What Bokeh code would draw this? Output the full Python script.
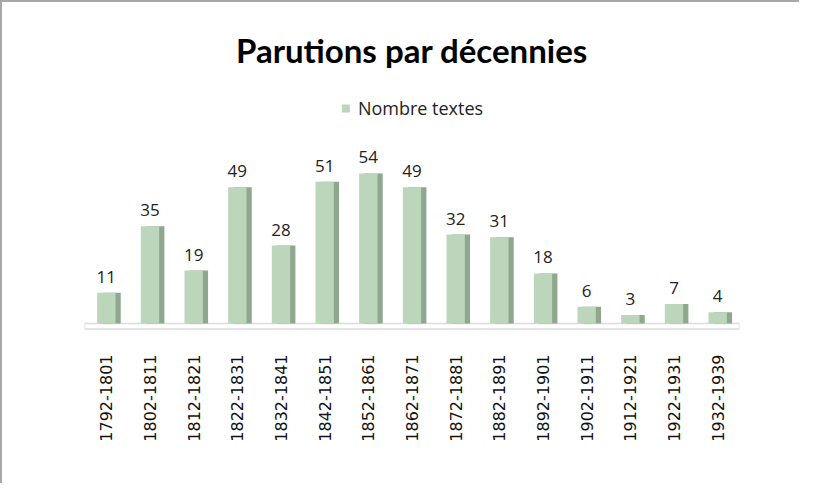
import math
from bokeh.plotting import figure
from bokeh.models import (ColumnDataSource, FactorRange, Range1d, LabelSet,
                          BoxAnnotation, Legend, LegendItem)
from bokeh.core.properties import value
from bokeh.transform import dodge
from bokeh.embed import file_html
from bokeh.resources import INLINE

categories = ["1792-1801", "1802-1811", "1812-1821", "1822-1831", "1832-1841",
              "1842-1851", "1852-1861", "1862-1871", "1872-1881", "1882-1891",
              "1892-1901", "1902-1911", "1912-1921", "1922-1931", "1932-1939"]
nombre_textes = [11, 35, 19, 49, 28, 51, 54, 49, 32, 31, 18, 6, 3, 7, 4]
series_name = "Nombre textes"
chart_title = "Parutions par décennies"

src = ColumnDataSource(dict(cat=categories, val=nombre_textes,
                            lbl=[str(v) for v in nombre_textes]))

p = figure(width=799, height=483, output_backend="svg", toolbar_location=None,
           x_range=FactorRange(*categories), y_range=Range1d(-4, 86),
           min_border_left=82, min_border_right=62, min_border_top=82,
           min_border_bottom=151)

p.title.text = chart_title
p.title.align = "center"
p.title.text_font = "Lato"
p.title.text_font_style = "bold"
p.title.text_font_size = "33px"
p.title.text_color = "#000000"
p.title.offset = 0
p.title.standoff = 30

# floor
p.add_layout(BoxAnnotation(bottom=-2.0, top=0, fill_color="#ffffff", fill_alpha=1,
                           line_color="#8c8c8c", line_width=1.5, level="underlay"))

# side faces
p.vbar(x=dodge("cat", 0.12, range=p.x_range), top="val", bottom=0, width=0.42,
       source=src, fill_color="#8fa68f", line_color=None)
# front faces
r = p.vbar(x="cat", top="val", bottom=0, width=0.42, source=src,
           fill_color="#bcd6bc", line_color=None)

labels = LabelSet(x="cat", y="val", text="lbl", source=src, y_offset=10,
                  text_align="center", text_baseline="bottom",
                  text_font=value("Open Sans"), text_font_size=value("17px"),
                  text_color="#222222")
p.add_layout(labels)

legend = Legend(items=[LegendItem(label=series_name, renderers=[r])],
                location="top_center", orientation="horizontal",
                label_text_font="Open Sans", label_text_font_size="18px",
                label_text_color="#222222", glyph_width=10, glyph_height=10,
                border_line_color=None, background_fill_alpha=0, margin=12,
                padding=0, label_standoff=8)
p.add_layout(legend)

p.yaxis.visible = False
p.xgrid.grid_line_color = None
p.ygrid.grid_line_color = None
p.outline_line_color = None
p.xaxis.axis_line_color = None
p.xaxis.major_tick_line_color = None
p.xaxis.minor_tick_line_color = None
p.xaxis.major_label_orientation = math.pi / 2
p.xaxis.major_label_standoff = 14
p.xaxis.major_label_text_font = "DejaVu Sans"
p.xaxis.major_label_text_font_size = "16px"
p.xaxis.major_label_text_color = "#111111"

p.styles = {"border-top": "2px solid #a8a8a8", "border-left": "2px solid #a8a8a8"}

open("out.html", "w").write(file_html(p, INLINE))
